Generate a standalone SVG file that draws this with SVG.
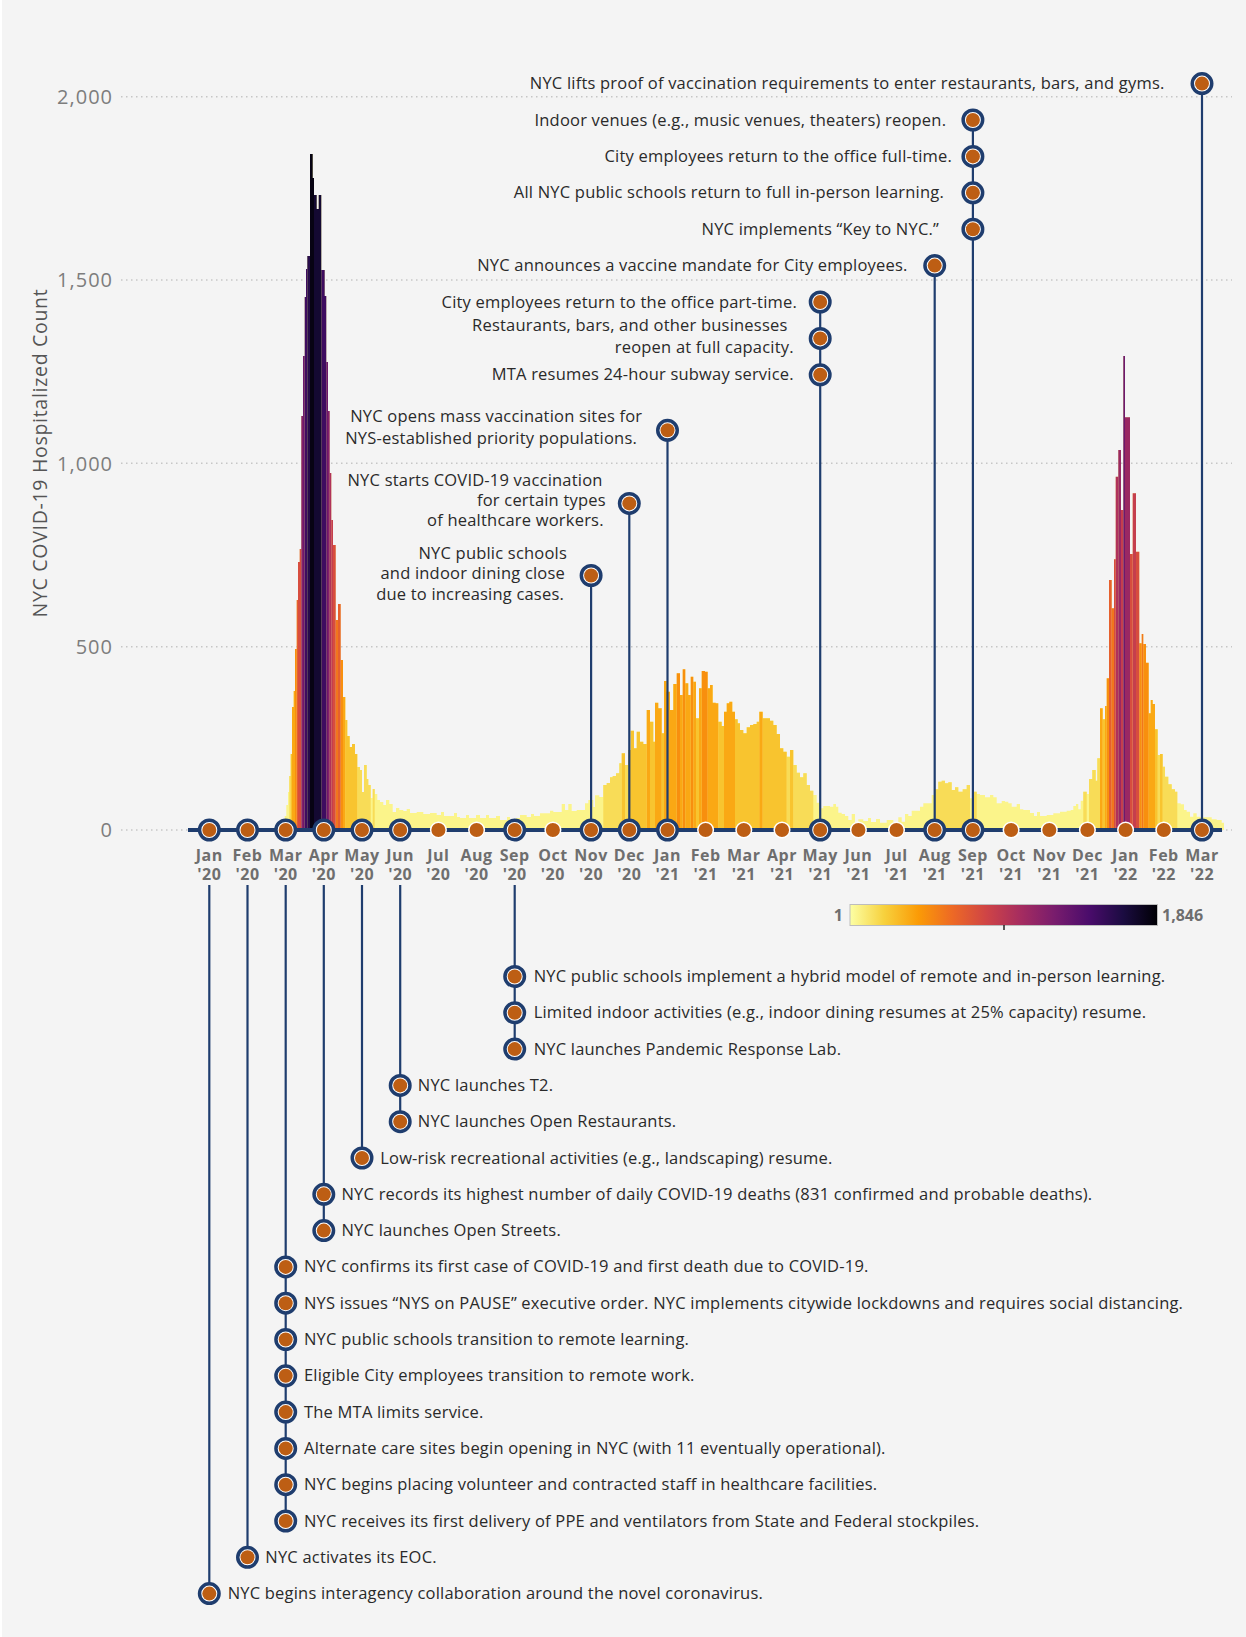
<svg xmlns="http://www.w3.org/2000/svg" xmlns:xlink="http://www.w3.org/1999/xlink" width="1246" height="1637" viewBox="0 0 1246 1637">
<style>
.bg{fill:#f4f4f4}
.grid{stroke:#c6c6c6;stroke-width:1.5;stroke-dasharray:1.5 3.5;fill:none}
.yl{font-family:"Open Sans","Liberation Sans",sans-serif;font-size:20px;letter-spacing:1px;fill:#7d7d7d;text-anchor:end}
.yt{font-family:"Open Sans","Liberation Sans",sans-serif;font-size:19.5px;letter-spacing:0.7px;fill:#555;text-anchor:middle}
.mo{font-family:"Open Sans","Liberation Sans",sans-serif;font-size:16px;letter-spacing:0.5px;font-weight:700;fill:#6e6e6e;text-anchor:middle}
.cb{font-family:"Open Sans","Liberation Sans",sans-serif;font-size:16px;font-weight:700;fill:#6e6e6e}
.ev{font-family:"Open Sans","Liberation Sans",sans-serif;font-size:16.5px;letter-spacing:0.2px;fill:#2a2a2a}
.er{text-anchor:end}
.conn{stroke:#1f3d6e;stroke-width:2.2;fill:none}
.axis{stroke:#1f3d6e;stroke-width:4}
.k0{fill:#fbf48a}.k1{fill:#f8dc57}.k2{fill:#f8c42f}.k3{fill:#faa814}.k4{fill:#f88f0e}.k5{fill:#f1761d}.k6{fill:#e6602d}.k7{fill:#d74d3e}.k8{fill:#c53e4d}.k9{fill:#b0325a}.k10{fill:#9a2863}.k11{fill:#83206a}.k12{fill:#6d186c}.k14{fill:#3e0c60}.k15{fill:#270c4b}.k16{fill:#140932}.k17{fill:#070313}
</style>
<defs>
<g id="big"><circle r="9.75" fill="#fff" stroke="#1f3d6e" stroke-width="3.5"/><circle r="7" fill="#bd5e14"/></g>
<circle id="small" r="7.8" fill="#bd5e14" stroke="#fff" stroke-width="1.5"/>
<linearGradient id="inferno" x1="0" x2="1" y1="0" y2="0">
<stop offset="0" stop-color="#fcffa4"/><stop offset="0.111" stop-color="#f7d13d"/><stop offset="0.222" stop-color="#fb9b06"/><stop offset="0.333" stop-color="#ed6925"/><stop offset="0.444" stop-color="#cf4446"/><stop offset="0.556" stop-color="#a52c60"/><stop offset="0.667" stop-color="#781c6d"/><stop offset="0.778" stop-color="#4a0c6b"/><stop offset="0.889" stop-color="#1b0c41"/><stop offset="1" stop-color="#000004"/>
</linearGradient>
</defs>
<rect width="1246" height="1637" fill="#ffffff"/>
<rect class="bg" x="2" y="0" width="1244" height="1637"/>

<g id="gridlines">
<line class="grid" x1="121" y1="96.7" x2="1232" y2="96.7"/>
<line class="grid" x1="121" y1="280" x2="1232" y2="280"/>
<line class="grid" x1="121" y1="463.3" x2="1232" y2="463.3"/>
<line class="grid" x1="121" y1="646.7" x2="1232" y2="646.7"/>
<line class="grid" x1="121" y1="830" x2="1232" y2="830"/>
</g>
<g id="y-axis">
<text class="yl" x="113" y="104">2,000</text>
<text class="yl" x="113" y="287">1,500</text>
<text class="yl" x="113" y="470.5">1,000</text>
<text class="yl" x="113" y="654">500</text>
<text class="yl" x="113" y="837">0</text>
<text class="yt" transform="translate(47,453) rotate(-90)">NYC COVID-19 Hospitalized Count</text>
</g>

<g id="bars">
<path class="k0" d="M284.7 830V816H286.3V805H288V792H289.3V776H290.7V754H292V707H293.7V691H295V649H296.7V600H298V562H299.7V549H301.3V416H303V356H304.7V297H306V269H307.3V256H310V154H312.7V178H314V195H316.7V209H318.7V195H321.3V270H324.7V296H326.3V362H328V411H329.7V473H331.3V520H333V545H335.7V620H338V604H340.7V660H343V697H345.3V720H347.3V736H349.7V747H352V744H355V754H357.3V767H360V770H362V792H364V765H366.7V779H368.3V785H370.7V798H372.7V789H374.7V794H377.3V800H380V802H383.3V805H386V800H389.3V804H392.7V812H396V808H399.3V810H403.3V811H406.7V809H410V813H416.7V812H423.3V814H430V813H436.7V815H441V812H444V816H450V816H454V813H457V817H460V818H466V815H469V818H476V815H480V818H486V815H489V818H496V816H500V820H507V817H510V820H516V818H520V815H526.7V817H531V814H534V816H540V813.3H550V810.7H553.3V812H561.7V804H565V810H568.3V804H571.7V811H576.7V810H585V803.3H588.3V800H593.3V807H595V795.3H599.3V797H603.3V785H606.7V783H610V777.3H612.7V776H616V773.3H619.3V763.3H621.7V753.3H625V765H628.3V750H630.7V730.7H634V748.3H636.7V731.7H640V741.7H643.3V744H646.7V710H650V721.7H653.3V741.7H655V702.7H658.3V708.3H661.7V733.3H664V681H666.7V691.7H670V710H673.3V684H676.7V673.3H680V695H682.7V669.3H685.3V683.3H688.3V695H690.7V676.7H693.3V681.7H696V718.3H699V688.3H701.7V671H705V671.7H707.7V688.3H710V685H712.7V702.7H715.7V703.3H718.3V721.7H721.7V726H724V711.7H726.7V703.3H729.3V701.7H732.3V711.7H735V719.3H737.7V723.3H740V730H743.3V733.3H746.7V727.3H750V725H753.3V724H756.7V721.7H759.3V711.7H762.7V718.3H770V720.7H773.3V725H776.7V734H780V748.3H783.3V751.7H786.7V756.7H790V750H793.3V765H796.7V772.7H800V777.3H803.3V773.3H806.7V785H810V790.7H813.3V795H816.7V802.7H820V808.3H823.3V806H830V806.7H833.3V804H836V806.7H838.3V812.7H841.7V814H845V816H848.3V820H851.7V814H855V824H858.3V819.3H863.3V821H868V818H871V822H876V819H880V822.7H886.7V820H893.3V822.7H898.3V817.3H901.7V821.7H905V814H908.3V816H911.7V810.7H920V806.7H923.3V803.3H931.7V795H935V789.3H938.3V781.7H941.7V780.7H945V783.3H948.3V782.3H951.7V790H955V787.3H958.3V791.7H962.7V789.3H966.7V785H970V798.3H972.7V791.7H976.7V794H980V795H985V797.3H990V795H993.3V797.3H996.7V803.3H1001.7V801H1005V801.7H1008.3V803.3H1011.7V806.7H1016.7V804H1020V809.3H1023.3V810H1030V813H1034V816H1037V812H1040V816H1046.7V815H1053.3V813.3H1060V811.7H1066.7V810.7H1070.7V810H1073.3V806H1076V804H1078.3V809.3H1080.7V800.7H1083.3V791.7H1086.7V794H1089V779H1092.3V770H1095.7V780.7H1097.3V758.3H1100V708.3H1102.7V719.3H1105V706H1106.7V678.3H1109V580H1111.7V608.3H1114V559.3H1115.7V476.7H1118.3V450H1121V510H1123.3V356H1125V417.3H1130V554H1132.7V493.3H1136V551.7H1139.3V643.3H1141.7V634H1143.3V644H1146V662.7H1148.7V713.3H1150.7V700H1152.7V704H1155V729.3H1157.7V755H1160V754H1162.7V766.7H1165V776.7H1168.3V784.3H1171.7V789.3H1175V791.7H1177.3V803.3H1180.7V804.3H1184V810H1186.7V811.7H1190V816.7H1193.3V813.3H1196.7V816.7H1200V817.3H1211.7V819.3H1216.7V820H1221.7V822.7H1224V830Z"/>
<path class="k1" d="M289.3 830V776H290.7V830Z M357.3 830V767H360V770H362V792H364V765H366.7V779H368.3V785H370.7V830Z M372.7 830V789H374.7V830Z M603.3 830V785H606.7V783H610V777.3H612.7V776H616V773.3H619.3V763.3H621.7V830Z M625 830V765H628.3V830Z M786.7 830V756.7H790V830Z M793.3 830V765H796.7V772.7H800V777.3H803.3V773.3H806.7V785H810V790.7H813.3V830Z M935 830V789.3H938.3V781.7H941.7V780.7H945V783.3H948.3V782.3H951.7V790H955V787.3H958.3V791.7H962.7V789.3H966.7V785H970V830Z M972.7 830V791.7H976.7V830Z M1083.3 830V791.7H1086.7V830Z M1089 830V779H1092.3V770H1095.7V780.7H1097.3V758.3H1100V830Z M1157.7 830V755H1160V830Z M1162.7 830V766.7H1165V776.7H1168.3V784.3H1171.7V789.3H1175V791.7H1177.3V830Z"/>
<path class="k2" d="M290.7 830V754H292V830Z M345.3 830V720H347.3V736H349.7V747H352V744H355V754H357.3V830Z M621.7 830V753.3H625V830Z M628.3 830V750H630.7V730.7H634V748.3H636.7V731.7H640V741.7H643.3V744H646.7V830Z M650 830V721.7H653.3V741.7H655V830Z M661.7 830V733.3H664V830Z M696 830V718.3H699V830Z M718.3 830V721.7H721.7V726H724V830Z M735 830V719.3H737.7V723.3H740V730H743.3V733.3H746.7V727.3H750V725H753.3V724H756.7V721.7H759.3V830Z M762.7 830V718.3H770V720.7H773.3V725H776.7V734H780V748.3H783.3V751.7H786.7V830Z M790 830V750H793.3V830Z M1102.7 830V719.3H1105V830Z M1155 830V729.3H1157.7V830Z M1160 830V754H1162.7V830Z"/>
<path class="k3" d="M292 830V707H293.7V691H295V830Z M343 830V697H345.3V830Z M646.7 830V710H650V830Z M655 830V702.7H658.3V708.3H661.7V830Z M664 830V681H666.7V691.7H670V710H673.3V684H676.7V830Z M680 830V695H682.7V830Z M685.3 830V683.3H688.3V695H690.7V830Z M693.3 830V681.7H696V830Z M699 830V688.3H701.7V830Z M707.7 830V688.3H710V685H712.7V702.7H715.7V703.3H718.3V830Z M724 830V711.7H726.7V703.3H729.3V701.7H732.3V711.7H735V830Z M759.3 830V711.7H762.7V830Z M1100 830V708.3H1102.7V830Z M1105 830V706H1106.7V830Z M1148.7 830V713.3H1150.7V700H1152.7V704H1155V830Z"/>
<path class="k4" d="M295 830V649H296.7V830Z M340.7 830V660H343V830Z M676.7 830V673.3H680V830Z M682.7 830V669.3H685.3V830Z M690.7 830V676.7H693.3V830Z M701.7 830V671H705V671.7H707.7V830Z M1106.7 830V678.3H1109V830Z M1139.3 830V643.3H1141.7V830Z M1143.3 830V644H1146V662.7H1148.7V830Z"/>
<path class="k5" d="M335.7 830V620H338V830Z M1111.7 830V608.3H1114V830Z M1141.7 830V634H1143.3V830Z"/>
<path class="k6" d="M296.7 830V600H298V830Z M338 830V604H340.7V830Z M1109 830V580H1111.7V830Z"/>
<path class="k7" d="M298 830V562H299.7V549H301.3V830Z M333 830V545H335.7V830Z M1114 830V559.3H1115.7V830Z M1130 830V554H1132.7V830Z M1136 830V551.7H1139.3V830Z"/>
<path class="k8" d="M331.3 830V520H333V830Z M1121 830V510H1123.3V830Z M1132.7 830V493.3H1136V830Z"/>
<path class="k9" d="M329.7 830V473H331.3V830Z M1115.7 830V476.7H1118.3V830Z"/>
<path class="k10" d="M1118.3 830V450H1121V830Z M1125 830V417.3H1130V830Z"/>
<path class="k11" d="M301.3 830V416H303V830Z M328 830V411H329.7V830Z"/>
<path class="k12" d="M303 830V356H304.7V830Z M326.3 830V362H328V830Z M1123.3 830V356H1125V830Z"/>
<path class="k14" d="M304.7 830V297H306V269H307.3V830Z M321.3 830V270H324.7V296H326.3V830Z"/>
<path class="k15" d="M307.3 830V256H310V830Z"/>
<path class="k16" d="M314 830V195H316.7V209H318.7V195H321.3V830Z"/>
<path class="k17" d="M310 830V154H312.7V178H314V830Z"/>
</g>

<g id="connectors">
<line class="axis" x1="188" y1="830" x2="1222" y2="830"/>
<line class="conn" x1="591.1" y1="830" x2="591.1" y2="575.5"/>
<line class="conn" x1="629.3" y1="830" x2="629.3" y2="503.4"/>
<line class="conn" x1="667.5" y1="830" x2="667.5" y2="430.3"/>
<line class="conn" x1="820.2" y1="830" x2="820.2" y2="302"/>
<line class="conn" x1="934.7" y1="830" x2="934.7" y2="265.6"/>
<line class="conn" x1="972.9" y1="830" x2="972.9" y2="120"/>
<line class="conn" x1="1202" y1="830" x2="1202" y2="83.6"/>
<line class="conn" x1="209.3" y1="885" x2="209.3" y2="1593.6"/>
<line class="conn" x1="247.5" y1="885" x2="247.5" y2="1557.3"/>
<line class="conn" x1="285.7" y1="885" x2="285.7" y2="1521"/>
<line class="conn" x1="323.8" y1="885" x2="323.8" y2="1230.6"/>
<line class="conn" x1="362" y1="885" x2="362" y2="1158"/>
<line class="conn" x1="400.2" y1="885" x2="400.2" y2="1121.7"/>
<line class="conn" x1="514.7" y1="885" x2="514.7" y2="1049.1"/>
</g>

<g id="months">
<g id="m-2020-01"><use href="#big" x="209.3" y="830"/><text class="mo" x="209.3" y="861">Jan</text><text class="mo" x="209.3" y="880">'20</text></g>
<g id="m-2020-02"><use href="#big" x="247.5" y="830"/><text class="mo" x="247.5" y="861">Feb</text><text class="mo" x="247.5" y="880">'20</text></g>
<g id="m-2020-03"><use href="#big" x="285.7" y="830"/><text class="mo" x="285.7" y="861">Mar</text><text class="mo" x="285.7" y="880">'20</text></g>
<g id="m-2020-04"><use href="#big" x="323.8" y="830"/><text class="mo" x="323.8" y="861">Apr</text><text class="mo" x="323.8" y="880">'20</text></g>
<g id="m-2020-05"><use href="#big" x="362" y="830"/><text class="mo" x="362" y="861">May</text><text class="mo" x="362" y="880">'20</text></g>
<g id="m-2020-06"><use href="#big" x="400.2" y="830"/><text class="mo" x="400.2" y="861">Jun</text><text class="mo" x="400.2" y="880">'20</text></g>
<g id="m-2020-07"><use href="#small" x="438.4" y="830"/><text class="mo" x="438.4" y="861">Jul</text><text class="mo" x="438.4" y="880">'20</text></g>
<g id="m-2020-08"><use href="#small" x="476.6" y="830"/><text class="mo" x="476.6" y="861">Aug</text><text class="mo" x="476.6" y="880">'20</text></g>
<g id="m-2020-09"><use href="#big" x="514.7" y="830"/><text class="mo" x="514.7" y="861">Sep</text><text class="mo" x="514.7" y="880">'20</text></g>
<g id="m-2020-10"><use href="#small" x="552.9" y="830"/><text class="mo" x="552.9" y="861">Oct</text><text class="mo" x="552.9" y="880">'20</text></g>
<g id="m-2020-11"><use href="#big" x="591.1" y="830"/><text class="mo" x="591.1" y="861">Nov</text><text class="mo" x="591.1" y="880">'20</text></g>
<g id="m-2020-12"><use href="#big" x="629.3" y="830"/><text class="mo" x="629.3" y="861">Dec</text><text class="mo" x="629.3" y="880">'20</text></g>
<g id="m-2021-01"><use href="#big" x="667.5" y="830"/><text class="mo" x="667.5" y="861">Jan</text><text class="mo" x="667.5" y="880">'21</text></g>
<g id="m-2021-02"><use href="#small" x="705.6" y="830"/><text class="mo" x="705.6" y="861">Feb</text><text class="mo" x="705.6" y="880">'21</text></g>
<g id="m-2021-03"><use href="#small" x="743.8" y="830"/><text class="mo" x="743.8" y="861">Mar</text><text class="mo" x="743.8" y="880">'21</text></g>
<g id="m-2021-04"><use href="#small" x="782" y="830"/><text class="mo" x="782" y="861">Apr</text><text class="mo" x="782" y="880">'21</text></g>
<g id="m-2021-05"><use href="#big" x="820.2" y="830"/><text class="mo" x="820.2" y="861">May</text><text class="mo" x="820.2" y="880">'21</text></g>
<g id="m-2021-06"><use href="#small" x="858.4" y="830"/><text class="mo" x="858.4" y="861">Jun</text><text class="mo" x="858.4" y="880">'21</text></g>
<g id="m-2021-07"><use href="#small" x="896.5" y="830"/><text class="mo" x="896.5" y="861">Jul</text><text class="mo" x="896.5" y="880">'21</text></g>
<g id="m-2021-08"><use href="#big" x="934.7" y="830"/><text class="mo" x="934.7" y="861">Aug</text><text class="mo" x="934.7" y="880">'21</text></g>
<g id="m-2021-09"><use href="#big" x="972.9" y="830"/><text class="mo" x="972.9" y="861">Sep</text><text class="mo" x="972.9" y="880">'21</text></g>
<g id="m-2021-10"><use href="#small" x="1011.1" y="830"/><text class="mo" x="1011.1" y="861">Oct</text><text class="mo" x="1011.1" y="880">'21</text></g>
<g id="m-2021-11"><use href="#small" x="1049.3" y="830"/><text class="mo" x="1049.3" y="861">Nov</text><text class="mo" x="1049.3" y="880">'21</text></g>
<g id="m-2021-12"><use href="#small" x="1087.4" y="830"/><text class="mo" x="1087.4" y="861">Dec</text><text class="mo" x="1087.4" y="880">'21</text></g>
<g id="m-2022-01"><use href="#small" x="1125.6" y="830"/><text class="mo" x="1125.6" y="861">Jan</text><text class="mo" x="1125.6" y="880">'22</text></g>
<g id="m-2022-02"><use href="#small" x="1163.8" y="830"/><text class="mo" x="1163.8" y="861">Feb</text><text class="mo" x="1163.8" y="880">'22</text></g>
<g id="m-2022-03"><use href="#big" x="1202" y="830"/><text class="mo" x="1202" y="861">Mar</text><text class="mo" x="1202" y="880">'22</text></g>
</g>

<g id="legend">
<rect x="850" y="904.5" width="307.5" height="21" fill="url(#inferno)" stroke="#bdbdbd" stroke-width="1"/>
<line x1="1004" y1="925" x2="1004" y2="930" stroke="#222" stroke-width="1.5"/>
<text class="cb" x="843" y="921" text-anchor="end">1</text>
<text class="cb" x="1162" y="921">1,846</text>
</g>

<g id="events-above">
<g id="e-2022-03-a"><use href="#big" x="1202" y="83.6"/><text class="ev er" x="1164.5" y="89">NYC lifts proof of vaccination requirements to enter restaurants, bars, and gyms.</text></g>
<g id="e-2021-09-d"><use href="#big" x="972.9" y="120"/><text class="ev er" x="946.2" y="125.5">Indoor venues (e.g., music venues, theaters) reopen.</text></g>
<g id="e-2021-09-c"><use href="#big" x="972.9" y="156.4"/><text class="ev er" x="952" y="161.9">City employees return to the office full-time.</text></g>
<g id="e-2021-09-b"><use href="#big" x="972.9" y="192.8"/><text class="ev er" x="944" y="198.3">All NYC public schools return to full in-person learning.</text></g>
<g id="e-2021-09-a"><use href="#big" x="972.9" y="229.2"/><text class="ev er" x="939" y="234.7">NYC implements “Key to NYC.”</text></g>
<g id="e-2021-08-a"><use href="#big" x="934.7" y="265.6"/><text class="ev er" x="907.6" y="271.1">NYC announces a vaccine mandate for City employees.</text></g>
<g id="e-2021-05-c"><use href="#big" x="820.2" y="302"/><text class="ev er" x="797" y="307.5">City employees return to the office part-time.</text></g>
<g id="e-2021-05-b"><use href="#big" x="820.2" y="338.4"/><text class="ev er" x="787.5" y="331">Restaurants, bars, and other businesses</text><text class="ev er" x="793.8" y="352.5">reopen at full capacity.</text></g>
<g id="e-2021-05-a"><use href="#big" x="820.2" y="374.8"/><text class="ev er" x="793.8" y="380.3">MTA resumes 24-hour subway service.</text></g>
<g id="e-2021-01-a"><use href="#big" x="667.5" y="430.3"/><text class="ev er" x="642.3" y="422">NYC opens mass vaccination sites for</text><text class="ev er" x="637" y="444">NYS-established priority populations.</text></g>
<g id="e-2020-12-a"><use href="#big" x="629.3" y="503.4"/><text class="ev er" x="602.6" y="485.5">NYC starts COVID-19 vaccination</text><text class="ev er" x="605.8" y="506">for certain types</text><text class="ev er" x="603.7" y="525.5">of healthcare workers.</text></g>
<g id="e-2020-11-a"><use href="#big" x="591.1" y="575.5"/><text class="ev er" x="567" y="558.5">NYC public schools</text><text class="ev er" x="565" y="579">and indoor dining close</text><text class="ev er" x="564" y="599.5">due to increasing cases.</text></g>
</g>

<g id="events-below">
<g id="e-2020-09-c"><use href="#big" x="514.7" y="976.5"/><text class="ev" x="533.7" y="982">NYC public schools implement a hybrid model of remote and in-person learning.</text></g>
<g id="e-2020-09-b"><use href="#big" x="514.7" y="1012.8"/><text class="ev" x="533.7" y="1018.3">Limited indoor activities (e.g., indoor dining resumes at 25% capacity) resume.</text></g>
<g id="e-2020-09-a"><use href="#big" x="514.7" y="1049.1"/><text class="ev" x="533.7" y="1054.6">NYC launches Pandemic Response Lab.</text></g>
<g id="e-2020-06-b"><use href="#big" x="400.2" y="1085.4"/><text class="ev" x="417.8" y="1090.9">NYC launches T2.</text></g>
<g id="e-2020-06-a"><use href="#big" x="400.2" y="1121.7"/><text class="ev" x="417.8" y="1127.2">NYC launches Open Restaurants.</text></g>
<g id="e-2020-05-a"><use href="#big" x="362" y="1158"/><text class="ev" x="380.2" y="1163.5">Low-risk recreational activities (e.g., landscaping) resume.</text></g>
<g id="e-2020-04-b"><use href="#big" x="323.8" y="1194.3"/><text class="ev" x="341.5" y="1199.8">NYC records its highest number of daily COVID-19 deaths (831 confirmed and probable deaths).</text></g>
<g id="e-2020-04-a"><use href="#big" x="323.8" y="1230.6"/><text class="ev" x="341.5" y="1236.1">NYC launches Open Streets.</text></g>
<g id="e-2020-03-h"><use href="#big" x="285.7" y="1266.9"/><text class="ev" x="304" y="1272.4">NYC confirms its first case of COVID-19 and first death due to COVID-19.</text></g>
<g id="e-2020-03-g"><use href="#big" x="285.7" y="1303.2"/><text class="ev" x="304" y="1308.7">NYS issues “NYS on PAUSE” executive order. NYC implements citywide lockdowns and requires social distancing.</text></g>
<g id="e-2020-03-f"><use href="#big" x="285.7" y="1339.5"/><text class="ev" x="304" y="1345">NYC public schools transition to remote learning.</text></g>
<g id="e-2020-03-e"><use href="#big" x="285.7" y="1375.8"/><text class="ev" x="304" y="1381.3">Eligible City employees transition to remote work.</text></g>
<g id="e-2020-03-d"><use href="#big" x="285.7" y="1412.1"/><text class="ev" x="304" y="1417.6">The MTA limits service.</text></g>
<g id="e-2020-03-c"><use href="#big" x="285.7" y="1448.4"/><text class="ev" x="304" y="1453.9">Alternate care sites begin opening in NYC (with 11 eventually operational).</text></g>
<g id="e-2020-03-b"><use href="#big" x="285.7" y="1484.7"/><text class="ev" x="304" y="1490.2">NYC begins placing volunteer and contracted staff in healthcare facilities.</text></g>
<g id="e-2020-03-a"><use href="#big" x="285.7" y="1521"/><text class="ev" x="304" y="1526.5">NYC receives its first delivery of PPE and ventilators from State and Federal stockpiles.</text></g>
<g id="e-2020-02-a"><use href="#big" x="247.5" y="1557.3"/><text class="ev" x="265.3" y="1562.8">NYC activates its EOC.</text></g>
<g id="e-2020-01-a"><use href="#big" x="209.3" y="1593.6"/><text class="ev" x="227.7" y="1599.1">NYC begins interagency collaboration around the novel coronavirus.</text></g>
</g>
</svg>
